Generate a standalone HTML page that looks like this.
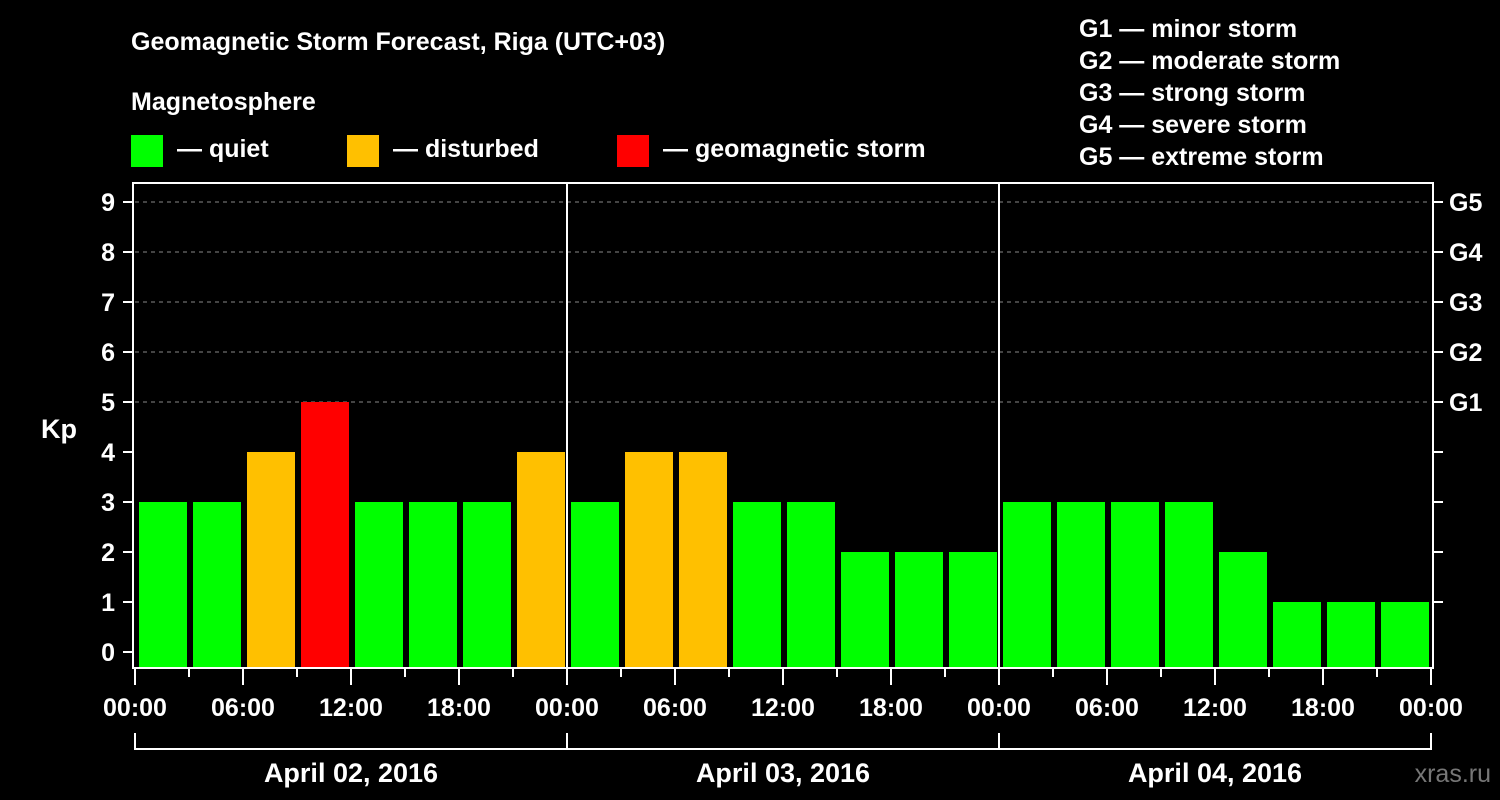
<!DOCTYPE html>
<html><head><meta charset="utf-8"><style>
body{margin:0;background:#000;width:1500px;height:800px;overflow:hidden}
svg{display:block;font-family:"Liberation Sans",Arial,sans-serif;font-weight:bold}
</style></head><body>
<svg id="c" width="1500" height="800" viewBox="0 0 1500 800">
<text x="131" y="50" fill="#fff" font-size="25">Geomagnetic Storm Forecast, Riga (UTC+03)</text>
<text x="131" y="110" fill="#fff" font-size="25">Magnetosphere</text>
<g><rect x="131" y="135" width="32" height="32" fill="#00ff00"/><text x="177" y="157" fill="#fff" font-size="25">— quiet</text></g>
<g><rect x="347" y="135" width="32" height="32" fill="#ffc000"/><text x="393" y="157" fill="#fff" font-size="25">— disturbed</text></g>
<g><rect x="617" y="135" width="32" height="32" fill="#ff0000"/><text x="663" y="157" fill="#fff" font-size="25">— geomagnetic storm</text></g>
<g fill="#fff" font-size="25">
<text x="1079" y="37">G1 — minor storm</text><text x="1079" y="69">G2 — moderate storm</text><text x="1079" y="101">G3 — strong storm</text><text x="1079" y="133">G4 — severe storm</text><text x="1079" y="165">G5 — extreme storm</text></g>
<text x="41" y="438" fill="#fff" font-size="27">Kp</text>
<text x="1491" y="782" fill="#777" font-size="25" text-anchor="end" font-weight="normal">xras.ru</text>
<g id="grid"></g><g id="bars"></g><g id="axes"></g>
</svg>
<script>
const kpValues=[3,3,4,5,3,3,3,4, 3,4,4,3,3,2,2,2, 3,3,3,3,2,1,1,1];
const dayLabels=["April 02, 2016","April 03, 2016","April 04, 2016"];
const yTicks=[0,1,2,3,4,5,6,7,8,9];
const gLabels=["G1","G2","G3","G4","G5"];
const hourLabels=["00:00","06:00","12:00","18:00"];
const NS="http://www.w3.org/2000/svg";
const L=135,R=1431,T=183,B=668;
const slot=(R-L)/kpValues.length;
const y=v=>652-50*v;
const x=i=>L+i*slot;
function mk(tag,a,parent,txt){const e=document.createElementNS(NS,tag);for(const k in a)e.setAttribute(k,a[k]);if(txt!==undefined)e.textContent=txt;document.getElementById(parent).appendChild(e);return e;}
function col(v){return v>=5?"#ff0000":v>=4?"#ffc000":"#00ff00";}
// grid
yTicks.filter(v=>v>=5).forEach(v=>{const l=mk("line",{x1:L,x2:R,y1:y(v),y2:y(v),stroke:"#888","stroke-dasharray":"4,4","stroke-width":1},"grid");

});
// bars
kpValues.forEach((v,i)=>{const r=mk("rect",{x:x(i)+4,y:y(v),width:slot-6,height:B-y(v),fill:col(v)},"bars");

});
// axes
const f=mk("rect",{x:133,y:T,width:1300,height:B-T,fill:"none",stroke:"#fff","stroke-width":2},"axes");


yTicks.forEach(v=>{mk("line",{x1:123,x2:133,y1:y(v),y2:y(v),stroke:"#fff","stroke-width":2},"axes");
const t=mk("text",{x:115,y:y(v)+9,fill:"#fff","font-size":25,"text-anchor":"end"},"axes",String(v));


if(v>0)mk("line",{x1:1433,x2:1443,y1:y(v),y2:y(v),stroke:"#fff","stroke-width":2},"axes");});
gLabels.forEach((g,i)=>{const t=mk("text",{x:1449,y:y(5+i)+9,fill:"#fff","font-size":25},"axes",g);

});
const nd=dayLabels.length,dayW=(R-L)/nd;
for(let d=0;d<nd;d++){
 if(d>0)mk("line",{x1:L+d*dayW,x2:L+d*dayW,y1:T,y2:B,stroke:"#fff","stroke-width":2},"axes");
 const t=mk("text",{x:L+d*dayW+dayW/2,y:782,fill:"#fff","font-size":27,"text-anchor":"middle"},"axes",dayLabels[d]);
 
 
}
for(let i=0;i<=kpValues.length;i++){const xx=x(i),major=i%2==0;
 mk("line",{x1:xx,x2:xx,y1:B+1,y2:major?685:677,stroke:"#fff","stroke-width":2},"axes");
 if(major){const t=mk("text",{x:xx,y:716,fill:"#fff","font-size":25,"text-anchor":"middle"},"axes",hourLabels[(i/2)%4]);
 
 }}
for(let d=0;d<=nd;d++){const xx=L+d*dayW;mk("line",{x1:xx,x2:xx,y1:733,y2:750,stroke:"#fff","stroke-width":2},"axes");}
const br=mk("line",{x1:L,x2:R,y1:749,y2:749,stroke:"#fff","stroke-width":2},"axes");


</script>
</body></html>
